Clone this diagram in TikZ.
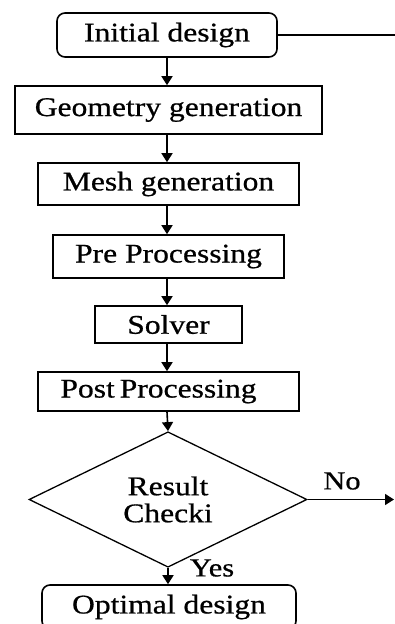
\documentclass[tikz,border=0pt]{standalone}
\usepackage{fontspec}
\setmainfont[FakeStretch=1.17, FakeBold=0.7]{Liberation Serif}
\usetikzlibrary{shapes.geometric,arrows.meta}
\begin{document}
\begin{tikzpicture}[x=1pt,y=-1pt,
  every node/.style={font=\fontsize{27}{30}\selectfont, inner sep=0pt, align=center},
  procbox/.style={draw, line width=1.6pt, minimum width=#1},
  termbox/.style={draw, line width=1.6pt, rounded corners=8pt, minimum width=#1},
  decision/.style={draw, diamond, line width=1.3pt, minimum width=278pt, minimum height=115pt},
  flow/.style={line width=1.6pt, -{Triangle[width=11pt,length=9pt]}},
  lbl/.style={font=\fontsize{26}{28}\selectfont}]
  \useasboundingbox (0,0) rectangle (395,624);
  \clip (0,0) rectangle (395,624);

  \node[termbox=220pt, minimum height=44pt] (init) at (167,35) {Initial design};
  \node[procbox=307pt, minimum height=48pt] (geom) at (168.5,110) {Geometry generation};
  \node[procbox=261pt, minimum height=42pt] (mesh) at (168.5,184) {Mesh generation};
  \node[procbox=231pt, minimum height=43pt] (pre) at (168.5,256.5) {Pre Processing};
  \node[procbox=147pt, minimum height=37pt] (solver) at (168.5,324.5) {Solver};
  \node[procbox=261pt, minimum height=39pt] (post) at (168.5,391.5) {\hspace*{-20pt}Post\hspace{-3pt} Processing};
  \node[decision] (check) at (168,499.5) {Result\\[-3pt]Checki};
  \node[termbox=254pt, minimum height=44pt] (opt) at (169,607) {Optimal design};

  \coordinate (loopend) at (396,35);
  \coordinate (noend) at (394,499.5);

  \draw[line width=1.6pt] (init.east) -- (loopend);
  \draw[flow] (init.south -| 167,0) -- (geom.north -| 167,0);
  \draw[flow] (geom.south -| 167,0) -- (mesh.north -| 167,0);
  \draw[flow] (mesh.south -| 167,0) -- (pre.north -| 167,0);
  \draw[flow] (pre.south -| 167,0) -- (solver.north -| 167,0);
  \draw[flow] (solver.south -| 167,0) -- (post.north -| 167,0);
  \draw[flow] (post.south -| 167,0) -- (check.north);
  \draw[flow] (check.east) -- (noend);
  \draw[flow] (check.south) -- (opt.north -| 168,0);
  \node[lbl] (nolbl) at (342,481) {No};
  \node[lbl] (yeslbl) at (212,568) {Yes};
\end{tikzpicture}
\end{document}
